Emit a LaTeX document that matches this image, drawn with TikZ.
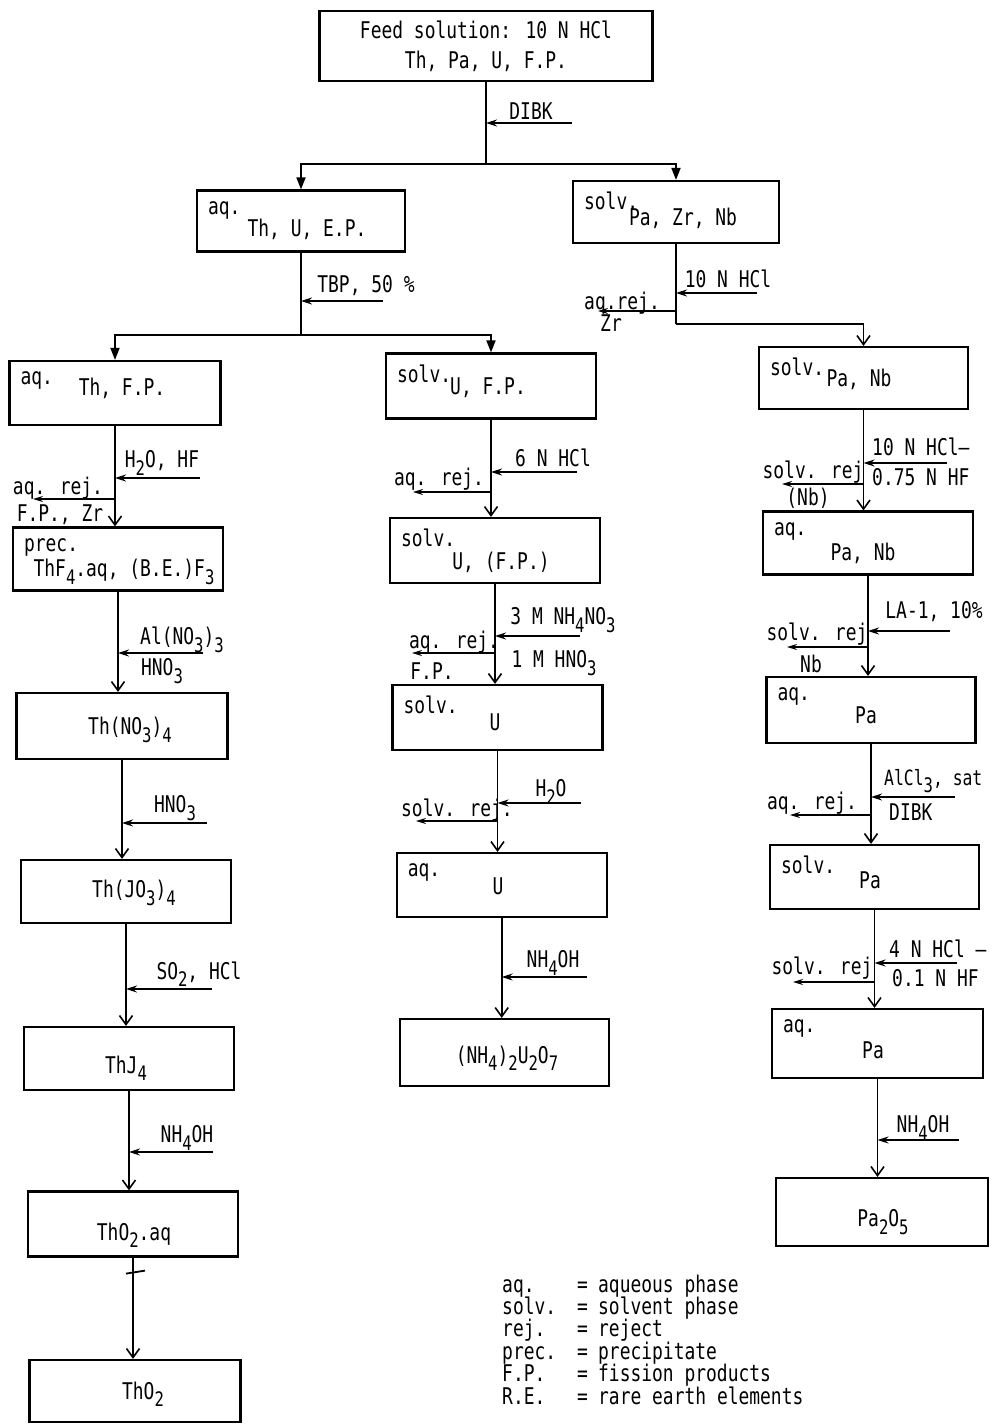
\documentclass[tikz,border=0pt]{standalone}
\usepackage{fontspec}
\newfontfamily\typer[FakeStretch=0.78]{DejaVu Sans Mono}
\newcommand{\chsub}[1]{\raisebox{-0.32em}{\fontsize{20}{20}\selectfont #1}}
\usetikzlibrary{arrows.meta}

\begin{document}
\begin{tikzpicture}[x=1pt, y=-1pt,
  font=\typer\fontsize{23}{25}\selectfont,
  box/.style 2 args={draw, line width=2.2pt, minimum width=#1, minimum height=#2, inner sep=0pt},
  tag/.style={anchor=north west, inner xsep=12pt, inner ysep=12pt},
  txt/.style={inner sep=0pt},
  trunk/.style={line width=1.8pt},
  flow/.style={trunk, -{Straight Barb[length=9pt,width=13pt,line width=1.6pt]}},
  branch/.style={trunk, -{Triangle[length=12pt,width=9pt]}},
  addin/.style={line width=1.4pt, -{Stealth[length=11pt,width=7pt]}},
  reject/.style={line width=1.4pt, -{Stealth[length=10pt,width=6pt]}}
]
  \useasboundingbox (0,0) rectangle (992,1425);

  % Feed and first extraction
  \node[box={333}{70}, align=center, font=\typer\fontsize{23}{30}\selectfont] (feed) at (486,46) {Feed solution: 10 N HCl\\Th, Pa, U, F.P.};

  \node[box={208}{61}] (thu) at (301,221) {};
  \node[tag] (thu-a) at (thu.north west) {aq.};
  \node[txt] (thu-t) at (307,229) {Th, U, E.P.};

  \node[box={206}{62}] (spzn) at (676,212) {};
  \node[tag] (spzn-a) at (spzn.north west) {solv.};
  \node[txt] (spzn-t) at (683,218) {Pa, Zr, Nb};

  \draw[trunk] (feed.south) -- ++(0,82) coordinate (s1);
  \draw[branch] (s1) -| (thu.north);
  \draw[branch] (s1) -| (spzn.north);
  \coordinate (dibk-in) at (572,123);
  \draw[addin] (dibk-in) -- (dibk-in -| feed.south);
  \node[txt] (dibk) at (531,111) {DIBK};

  % Thorium line (left)
  \node[box={211}{64}] (athf) at (115,393) {};
  \node[tag] (athf-a) at (athf.north west) {aq.};
  \node[txt] (athf-t) at (122,388) {Th, F.P.};

  \node[box={210}{63}] (prec) at (118,559) {};
  \node[tag] (prec-a) at (prec.north west) {prec.};
  \node[txt] (prec-t) at (124,572) {ThF\chsub{4}.aq, (B.E.)F\chsub{3}};

  \node[box={211}{66}] (thno) at (122,726) {};
  \node[txt] (thno-t) at (130,730) {Th(NO\chsub{3})\chsub{4}};

  \node[box={210}{63}] (thjo) at (126,891.5) {};
  \node[txt] (thjo-t) at (134,893) {Th(JO\chsub{3})\chsub{4}};

  \node[box={210}{63}] (thj) at (129,1058.5) {};
  \node[txt] (thj-t) at (126,1068) {ThJ\chsub{4}};

  \node[box={210}{65}] (thoaq) at (133,1224) {};
  \node[txt] (thoaq-t) at (134,1235) {ThO\chsub{2}.aq};

  \node[box={211}{62}] (tho) at (135,1391) {};
  \node[txt] (tho-t) at (143,1394) {ThO\chsub{2}};

  \draw[trunk] (thu.south) -- ++(0,82) coordinate (s2);
  \draw[branch] (s2) -| (athf.north);
  \coordinate (tbp-in) at (383,301);
  \draw[addin] (tbp-in) -- (tbp-in -| thu.south);
  \node[txt] (tbp) at (366,286) {TBP, 50 \%};

  \draw[flow] (athf.south) -- (athf.south |- prec.north);
  \coordinate (hf-in) at (200,478);
  \draw[addin] (hf-in) -- (hf-in -| athf.south);
  \node[txt] (hf) at (162,463) {H\chsub{2}O, HF};
  \coordinate (fp-out) at (33,499);
  \draw[reject] (fp-out -| athf.south) -- (fp-out);
  \node[txt] (fp-a) at (58,488) {aq. rej.};
  \node[txt] (fp-b) at (60,515) {F.P., Zr};

  \draw[flow] (prec.south) -- (prec.south |- thno.north);
  \coordinate (alno-in) at (203,653);
  \draw[addin] (alno-in) -- (alno-in -| prec.south);
  \node[txt] (alno-a) at (182,640) {Al(NO\chsub{3})\chsub{3}};
  \node[txt] (alno-b) at (162,671) {HNO\chsub{3}};

  \draw[flow] (thno.south) -- (thno.south |- thjo.north);
  \coordinate (hno-in) at (207,823);
  \draw[addin] (hno-in) -- (hno-in -| thno.south);
  \node[txt] (hno) at (175,808) {HNO\chsub{3}};

  \draw[flow] (thjo.south) -- (thjo.south |- thj.north);
  \coordinate (so-in) at (212,989);
  \draw[addin] (so-in) -- (so-in -| thjo.south);
  \node[txt] (so) at (199,974) {SO\chsub{2}, HCl};

  \draw[flow] (thj.south) -- (thj.south |- thoaq.north);
  \coordinate (nhl-in) at (213,1152);
  \draw[addin] (nhl-in) -- (nhl-in -| thj.south);
  \node[txt] (nhl) at (187,1138) {NH\chsub{4}OH};

  \draw[flow] (thoaq.south) -- (thoaq.south |- tho.north);
  \draw[trunk] ([shift={(-7,16)}]thoaq.south) -- ++(19,-3);

  % Uranium line (middle)
  \node[box={210}{65}] (sufp) at (491,386) {};
  \node[tag] (sufp-a) at (sufp.north west) {solv.};
  \node[txt] (sufp-t) at (488,388) {U, F.P.};

  \node[box={210}{65}] (suf2) at (495,550.5) {};
  \node[tag] (suf2-a) at (suf2.north west) {solv.};
  \node[txt] (suf2-t) at (501,562) {U, (F.P.)};

  \node[box={210}{65}] (su) at (497.5,717.5) {};
  \node[tag] (su-a) at (su.north west) {solv.};
  \node[txt] (su-t) at (495,722) {U};

  \node[box={210}{64}] (au) at (501.7,885) {};
  \node[tag] (au-a) at (au.north west) {aq.};
  \node[txt] (au-t) at (498,886) {U};

  \node[box={209}{67}] (nhu) at (504.7,1052.5) {};
  \node[txt] (nhu-t) at (507,1058) {(NH\chsub{4})\chsub{2}U\chsub{2}O\chsub{7}};

  \draw[branch] (s2) -| (sufp.north);

  \draw[flow] (sufp.south) -- (sufp.south |- suf2.north);
  \coordinate (hcl6-in) at (577,472);
  \draw[addin] (hcl6-in) -- (hcl6-in -| sufp.south);
  \node[txt] (hcl6) at (553,458) {6 N HCl};
  \coordinate (u1-out) at (413,492);
  \draw[reject] (u1-out -| sufp.south) -- (u1-out);
  \node[txt] (u1-a) at (439,479) {aq. rej.};

  \draw[flow] (suf2.south) -- (suf2.south |- su.north);
  \coordinate (nit-in) at (580,636);
  \draw[addin] (nit-in) -- (nit-in -| suf2.south);
  \node[txt] (nit-a) at (563,620) {3 M NH\chsub{4}NO\chsub{3}};
  \node[txt] (nit-b) at (554,663) {1 M HNO\chsub{3}};
  \coordinate (u2-out) at (412,653);
  \draw[reject] (u2-out -| suf2.south) -- (u2-out);
  \node[txt] (u2-a) at (454,642) {aq. rej.};
  \node[txt] (u2-b) at (432,671) {F.P.};

  \draw[flow] (su.south) -- (su.south |- au.north);
  \coordinate (wat-in) at (581,803);
  \draw[addin] (wat-in) -- (wat-in -| su.south);
  \node[txt] (wat) at (551,792) {H\chsub{2}O};
  \coordinate (u3-out) at (416,821);
  \draw[reject] (u3-out -| su.south) -- (u3-out);
  \node[txt] (u3-a) at (457,810) {solv. rej.};

  \draw[flow] (au.south) -- (au.south |- nhu.north);
  \coordinate (nhm-in) at (587,977);
  \draw[addin] (nhm-in) -- (nhm-in -| au.south);
  \node[txt] (nhm) at (553,963) {NH\chsub{4}OH};

  % Protactinium line (right)
  \node[box={209}{62}] (spnb) at (863.5,378) {};
  \node[tag] (spnb-a) at (spnb.north west) {solv.};
  \node[txt] (spnb-t) at (859,379) {Pa, Nb};

  \node[box={210}{63}] (apnb) at (868,543) {};
  \node[tag] (apnb-a) at (apnb.north west) {aq.};
  \node[txt] (apnb-t) at (863,553) {Pa, Nb};

  \node[box={209}{66}] (apa1) at (871,710) {};
  \node[tag] (apa1-a) at (apa1.north west) {aq.};
  \node[txt] (apa1-t) at (866,715) {Pa};

  \node[box={209}{64}] (spa) at (874.5,877) {};
  \node[tag] (spa-a) at (spa.north west) {solv.};
  \node[txt] (spa-t) at (870,880) {Pa};

  \node[box={211}{69}] (apa2) at (877.5,1043.5) {};
  \node[tag] (apa2-a) at (apa2.north west) {aq.};
  \node[txt] (apa2-t) at (873,1050) {Pa};

  \node[box={212}{68}] (pao) at (882,1212) {};
  \node[txt] (pao-t) at (883,1222) {Pa\chsub{2}O\chsub{5}};

  \draw[trunk] (spzn.south) -- ++(0,80) coordinate (s3);
  \draw[flow] (s3) -| (spnb.north);
  \coordinate (hcl10-in) at (757,293);
  \draw[addin] (hcl10-in) -- (hcl10-in -| spzn.south);
  \node[txt] (hcl10) at (728,279) {10 N HCl};
  \coordinate (zr-out) at (598,311);
  \draw[reject] (zr-out -| spzn.south) -- (zr-out);
  \node[txt] (zr-a) at (622,303) {aq.rej.};
  \node[txt] (zr-b) at (611,323) {Zr};

  \draw[flow] (spnb.south) -- (spnb.south |- apnb.north);
  \coordinate (hf75-in) at (947,463);
  \draw[addin] (hf75-in) -- (hf75-in -| spnb.south);
  \node[txt, anchor=west] (hf75-a) at (872,447) {10 N HCl–};
  \node[txt, anchor=west] (hf75-b) at (872,477) {0.75 N HF};
  \coordinate (nb1-out) at (782,484);
  \draw[reject] (nb1-out -| spnb.south) -- (nb1-out);
  \node[txt] (nb1-a) at (813,472) {solv. rej};
  \node[txt] (nb1-b) at (808,498) {(Nb)};

  \draw[flow] (apnb.south) -- (apnb.south |- apa1.north);
  \coordinate (la-in) at (950,631);
  \draw[addin] (la-in) -- (la-in -| apnb.south);
  \node[txt] (la) at (934,612) {LA-1, 10\%};
  \coordinate (nb2-out) at (787,647);
  \draw[reject] (nb2-out -| apnb.south) -- (nb2-out);
  \node[txt] (nb2-a) at (817,634) {solv. rej};
  \node[txt] (nb2-b) at (811,664) {Nb};

  \draw[flow] (apa1.south) -- (apa1.south |- spa.north);
  \coordinate (alcl-in) at (955,797);
  \draw[addin] (alcl-in) -- (alcl-in -| apa1.south);
  \node[txt, anchor=west, font=\typer\fontsize{21}{25}\selectfont] (alcl-a) at (884,781) {AlCl\chsub{3}, sat};
  \node[txt, anchor=west] (alcl-b) at (889,812) {DIBK};
  \coordinate (pa1-out) at (790,815);
  \draw[reject] (pa1-out -| apa1.south) -- (pa1-out);
  \node[txt] (pa1-a) at (812,803) {aq. rej.};

  \draw[flow] (spa.south) -- (spa.south |- apa2.north);
  \coordinate (hf01-in) at (957,963);
  \draw[addin] (hf01-in) -- (hf01-in -| spa.south);
  \node[txt, anchor=west] (hf01-a) at (889,949) {4 N HCl –};
  \node[txt, anchor=west] (hf01-b) at (892,978) {0.1 N HF};
  \coordinate (pa2-out) at (793,982);
  \draw[reject] (pa2-out -| spa.south) -- (pa2-out);
  \node[txt] (pa2-a) at (822,968) {solv. rej};

  \draw[flow] (apa2.south) -- (apa2.south |- pao.north);
  \coordinate (nhr-in) at (959,1140);
  \draw[addin] (nhr-in) -- (nhr-in -| apa2.south);
  \node[txt] (nhr) at (923,1128) {NH\chsub{4}OH};

  % Legend
  \foreach \ab/\df [count=\i from 0] in {aq./aqueous phase, solv./solvent phase, rej./reject, prec./precipitate, F.P./fission products, R.E./rare earth elements}
    \node[txt, anchor=base west] (leg\i) at (502,{1292+22.4*\i}) {\makebox[75pt][l]{\ab}\makebox[21pt][l]{=}\df};
\end{tikzpicture}
\end{document}
